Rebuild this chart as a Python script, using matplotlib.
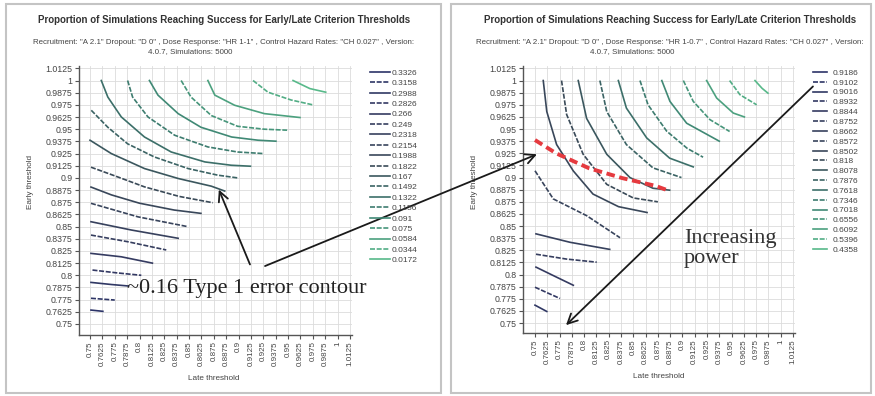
import matplotlib
matplotlib.use('Agg')
import matplotlib.pyplot as plt
from matplotlib.colors import LinearSegmentedColormap
from matplotlib.lines import Line2D
from matplotlib.patches import Rectangle, ConnectionPatch

thresholds = [0.75, 0.7625, 0.775, 0.7875, 0.8, 0.8125, 0.825, 0.8375, 0.85, 0.8625, 0.875,
              0.8875, 0.9, 0.9125, 0.925, 0.9375, 0.95, 0.9625, 0.975, 0.9875, 1.0, 1.0125]
threshold_labels = ['0.75', '0.7625', '0.775', '0.7875', '0.8', '0.8125', '0.825', '0.8375', '0.85',
                    '0.8625', '0.875', '0.8875', '0.9', '0.9125', '0.925', '0.9375', '0.95', '0.9625',
                    '0.975', '0.9875', '1', '1.0125']

# legend levels, top to bottom
left_levels = ['0.3326', '0.3158', '0.2988', '0.2826', '0.266', '0.249', '0.2318', '0.2154', '0.1988',
               '0.1822', '0.167', '0.1492', '0.1322', '0.1156', '0.091', '0.075', '0.0584', '0.0344',
               '0.0172']
right_levels = ['0.9186', '0.9102', '0.9016', '0.8932', '0.8844', '0.8752', '0.8662', '0.8572', '0.8502',
                '0.818', '0.8078', '0.7876', '0.7618', '0.7346', '0.7018', '0.6556', '0.6092', '0.5396',
                '0.4358']

# contour lines, same order as the legend
left_x = [
    [0.751, 0.763],
    [0.751, 0.775],
    [0.751, 0.772, 0.789],
    [0.7525, 0.777, 0.8018],
    [0.751, 0.7816, 0.813],
    [0.751, 0.788, 0.827],
    [0.751, 0.7917, 0.839],
    [0.751, 0.7985, 0.849],
    [0.751, 0.7715, 0.80, 0.835, 0.862],
    [0.751, 0.778, 0.805, 0.84, 0.874],
    [0.75, 0.7715, 0.805, 0.839, 0.8725, 0.886],
    [0.7513, 0.768, 0.788, 0.815, 0.849, 0.879, 0.899],
    [0.7614, 0.768, 0.7816, 0.805, 0.832, 0.866, 0.8926, 0.912],
    [0.788, 0.793, 0.8085, 0.8355, 0.869, 0.899, 0.925],
    [0.810, 0.8186, 0.839, 0.862, 0.893, 0.9196, 0.9377],
    [0.842, 0.852, 0.8725, 0.899, 0.926, 0.949],
    [0.869, 0.876, 0.896, 0.926, 0.962],
    [0.9146, 0.9297, 0.953, 0.975],
    [0.955, 0.972, 0.988],
]
left_y = [
    [0.7643, 0.763],
    [0.7764, 0.7746],
    [0.7927, 0.7905, 0.789],
    [0.8054, 0.8025, 0.800],
    [0.8225, 0.819, 0.8125],
    [0.8413, 0.8345, 0.826],
    [0.855, 0.8465, 0.838],
    [0.8739, 0.860, 0.8499],
    [0.8906, 0.8826, 0.874, 0.867, 0.8636],
    [0.911, 0.901, 0.8908, 0.881, 0.8745],
    [0.9387, 0.925, 0.9096, 0.8994, 0.8915, 0.8865],
    [0.9694, 0.952, 0.935, 0.9215, 0.9096, 0.9028, 0.900],
    [1.0, 0.983, 0.9626, 0.942, 0.9266, 0.9164, 0.913, 0.912],
    [1.0, 0.983, 0.9626, 0.9438, 0.9318, 0.9266, 0.925],
    [1.0, 0.985, 0.966, 0.952, 0.942, 0.9387, 0.9377],
    [1.0, 0.983, 0.964, 0.953, 0.950, 0.949],
    [1.0, 0.985, 0.9746, 0.966, 0.962],
    [1.0, 0.988, 0.980, 0.975],
    [1.0, 0.9917, 0.988],
]
right_x = [
    [],
    [],
    [0.75, 0.762],
    [0.75, 0.763, 0.7754],
    [0.751, 0.7686, 0.789],
    [0.751, 0.782, 0.8128],
    [0.751, 0.7856, 0.826],
    [0.75, 0.7686, 0.8026, 0.8365],
    [0.7584, 0.762, 0.772, 0.789, 0.809, 0.835, 0.864],
    [0.777, 0.7822, 0.799, 0.823, 0.850, 0.875],
    [0.794, 0.8025, 0.823, 0.8466, 0.870, 0.887],
    [0.816, 0.823, 0.843, 0.870, 0.899],
    [0.8348, 0.843, 0.8636, 0.887, 0.911],
    [0.8568, 0.865, 0.884, 0.905, 0.921],
    [0.879, 0.8873, 0.9043, 0.9375],
    [0.9009, 0.911, 0.928, 0.948],
    [0.9246, 0.9348, 0.9517, 0.963],
    [0.948, 0.9585, 0.9755],
    [0.9738, 0.981, 0.987],
]
right_y = [
    [],
    [],
    [0.7685, 0.762],
    [0.787, 0.781, 0.7754],
    [0.8077, 0.799, 0.789],
    [0.821, 0.816, 0.8128],
    [0.842, 0.8333, 0.826],
    [0.907, 0.878, 0.8607, 0.838],
    [1.0, 0.968, 0.934, 0.9068, 0.883, 0.870, 0.864],
    [1.0, 0.965, 0.924, 0.893, 0.879, 0.875],
    [1.0, 0.961, 0.924, 0.900, 0.889, 0.887],
    [1.0, 0.968, 0.934, 0.910, 0.900],
    [1.0, 0.9716, 0.9409, 0.920, 0.911],
    [1.0, 0.975, 0.9478, 0.930, 0.921],
    [1.0, 0.9785, 0.956, 0.9375],
    [1.0, 0.9785, 0.9597, 0.9475],
    [1.0, 0.982, 0.9665, 0.9625],
    [1.0, 0.9854, 0.975],
    [1.0, 0.992, 0.987],
]
type1_index = 10  # the ~0.16 contour of the left chart

titles = ['Proportion of Simulations Reaching Success for Early/Late Criterion Thresholds'] * 2
subtitles = ['Recruitment: "A 2.1" Dropout: "D 0" , Dose Response: "HR 1-1" , Control Hazard Rates: "CH 0.027" , Version:',
             'Recruitment: "A 2.1" Dropout: "D 0" , Dose Response: "HR 1-0.7" , Control Hazard Rates: "CH 0.027" , Version:']
subtitle2 = '4.0.7, Simulations: 5000'

W, H = 875, 396
cmap = LinearSegmentedColormap.from_list('lvl', ['#2c3468', '#363c60', '#3a4a58', '#3d8272', '#58b98a'])
plt.rcParams['font.family'] = ['Liberation Sans', 'DejaVu Sans']


def fx(px):
    return px / W


def fy(py):
    return 1 - py / H


def style(i):
    return '-' if i % 2 == 0 else (0, (3.0, 1.0))


def setup_axes(ax, xlim, ylim):
    ax.set_xlim(*xlim)
    ax.set_ylim(*ylim)
    ax.set_xticks(thresholds)
    ax.set_xticklabels(threshold_labels, rotation=90, fontsize=5.8, color='#444444')
    ax.set_yticks(thresholds)
    ax.set_yticklabels(threshold_labels, fontsize=6.3, color='#444444')
    ax.tick_params(length=3, width=0.8, color='#555555', pad=1.5)
    ax.grid(True, color='#dcdcdc', linewidth=0.6)
    ax.set_axisbelow(True)
    for s in ['top', 'right']:
        ax.spines[s].set_visible(False)
    for s in ['left', 'bottom']:
        ax.spines[s].set_color('#555555')
        ax.spines[s].set_linewidth(1.0)


def draw_curves(ax, xs, ys, n):
    for i in range(n):
        ax.plot(xs[i], ys[i], color=cmap(i / (n - 1)), linestyle=style(i), linewidth=1.2)


def draw_legend(fig, levels, x, y, spacing, hl, pad):
    n = len(levels)
    handles = [Line2D([], [], color=cmap(i / (n - 1)), linestyle=style(i), linewidth=1.2) for i in range(n)]
    fig.legend(handles, levels, loc='upper left', bbox_to_anchor=(fx(x), fy(y)), frameon=False,
               fontsize=6, labelspacing=spacing, handlelength=hl, handletextpad=pad, borderpad=0,
               borderaxespad=0, labelcolor='#444444')


fig = plt.figure(figsize=(8.75, 3.96), dpi=100)

# panel frames
fig.add_artist(Rectangle((fx(6), fy(393)), fx(435), 389 / H, transform=fig.transFigure,
                         fill=False, edgecolor='#c4c4c4', linewidth=1.5))
fig.add_artist(Rectangle((fx(451), fy(393)), fx(420), 389 / H, transform=fig.transFigure,
                         fill=False, edgecolor='#c4c4c4', linewidth=1.5))

ax1 = fig.add_axes([fx(79), fy(335), fx(352 - 79), (335 - 66) / H])
setup_axes(ax1, (0.7389, 1.0145), (0.7387, 1.0149))
draw_curves(ax1, left_x, left_y, len(left_levels))

ax2 = fig.add_axes([fx(523), fy(333), fx(795 - 523), (333 - 66) / H])
setup_axes(ax2, (0.7378, 1.0145), (0.7398, 1.015))
draw_curves(ax2, right_x, right_y, len(right_levels))
ax2.plot(left_x[type1_index], left_y[type1_index], color='#e53a3f', linewidth=2.8,
         linestyle=(0, (2.2, 1.2)))

draw_legend(fig, left_levels, 370, 69, 0.31, 2.4, 0.25)
draw_legend(fig, right_levels, 813, 69, 0.24, 1.7, 0.7)

# titles and labels
for cx, cx2, t, st in [(224, 190, titles[0], subtitles[0]), (670, 632, titles[1], subtitles[1])]:
    fig.text(fx(cx), fy(20), t, ha='center', va='center', fontsize=7.0, fontweight='bold', color='#333333')
    fig.text(fx(cx), fy(43), st, ha='center', va='center', fontsize=5.7, color='#444444')
    fig.text(fx(cx2), fy(51.5), subtitle2, ha='center', va='center', fontsize=5.7, color='#444444')

fig.text(fx(30), fy(182), 'Early threshold', rotation=90, ha='center', va='center', fontsize=5.9, color='#444444')
fig.text(fx(474), fy(182), 'Early threshold', rotation=90, ha='center', va='center', fontsize=5.9, color='#444444')
fig.text(fx(214), fy(378), 'Late threshold', ha='center', va='center', fontsize=5.9, color='#444444')
fig.text(fx(659), fy(377), 'Late threshold', ha='center', va='center', fontsize=5.9, color='#444444')

# annotations
serif = ['Liberation Serif', 'DejaVu Serif']
fig.text(fx(127), fy(289), '~0.16 Type 1 error contour', ha='left', va='center', fontsize=16,
         family=serif, color='#222222')
fig.text(fx(684), fy(229), 'Increasing\npower', ha='left', va='top', fontsize=16, family=serif,
         color='#333333', linespacing=1.1)

arrow = dict(arrowstyle='->,head_length=0.7,head_width=0.35', color='#1a1a1a', linewidth=1.3)
ax1.annotate('', xy=(0.879, 0.8906), xytext=(0.9126, 0.8085), xycoords='data', arrowprops=arrow,
             annotation_clip=False)
con = ConnectionPatch(xyA=(0.9267, 0.8095), coordsA=ax1.transData, xyB=(0.752, 0.924),
                      coordsB=ax2.transData, mutation_scale=10, **arrow)
fig.add_artist(con)
ax2.annotate('', xy=(0.7795, 0.7459), xytext=(1.0348, 0.9959), xycoords='data', arrowprops=arrow,
             annotation_clip=False)

fig.savefig('out.png', dpi=100)
